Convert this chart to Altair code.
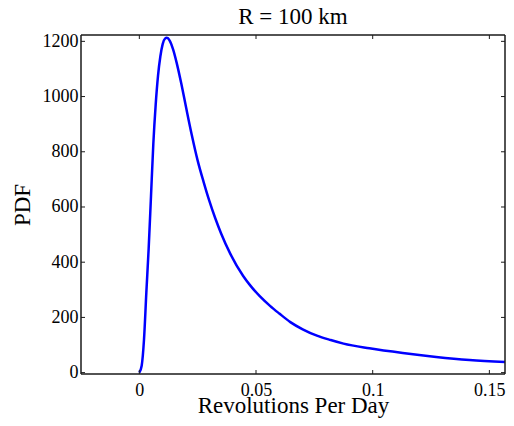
import altair as alt
import pandas as pd

# ---- data ----
rev_per_day = [0.0, 0.0010, 0.0020, 0.0030, 0.0040, 0.0050, 0.0060, 0.0070, 0.0080,
               0.0090, 0.0100, 0.0110, 0.0118, 0.0130, 0.0145, 0.0160, 0.0180, 0.0200,
               0.0225, 0.0250, 0.0275, 0.0300, 0.0325, 0.0350, 0.0390, 0.0445, 0.0475,
               0.0517, 0.0560, 0.0600, 0.0647, 0.0700, 0.0761, 0.0820, 0.0875, 0.0986,
               0.1129, 0.1272, 0.1415, 0.1580]
pdf_values = [0, 25, 120, 290, 450, 640, 830, 970, 1075,
              1145, 1190, 1210, 1213, 1203, 1170, 1122, 1046, 962,
              860, 768, 692, 622, 560, 505, 430, 350, 316,
              276, 242, 214, 183, 157, 134, 118, 105, 88,
              71, 57, 46, 38]
x_ticks = [0, 0.05, 0.1, 0.15]
y_ticks = [0, 200, 400, 600, 800, 1000, 1200]
chart_title = ["R = 100 km"]
x_title = "Revolutions Per Day"
y_title = "PDF"

W, H = 424, 339
FONT = "Liberation Serif"
TICK = 4
INK = "#1a1a1a"

curve = pd.DataFrame({"x": rev_per_day, "y": pdf_values})
xt = pd.DataFrame({"x": x_ticks})
yt = pd.DataFrame({"y": y_ticks})
tt = pd.DataFrame({"t": chart_title})
one = pd.DataFrame({"k": [0]})

xscale = alt.Scale(domain=[-0.025, 0.1567], nice=False, zero=False)
yscale = alt.Scale(domain=[-5, 1223], nice=False, zero=False)

xaxis = alt.Axis(values=x_ticks, format="~g", title=x_title, grid=False, ticks=False,
                 tickSize=0, domain=False, labelPadding=7, labelFont=FONT,
                 labelFontSize=18, labelColor="black", labelFlush=False,
                 labelOverlap=False, titleFont=FONT, titleFontSize=23,
                 titleFontWeight="normal", titleColor="black", titleY=38.5,
                 titleBaseline="alphabetic")
yaxis = alt.Axis(values=y_ticks, format="d", title=y_title, grid=False, ticks=False,
                 tickSize=0, domain=False, labelPadding=3, labelFont=FONT,
                 labelFontSize=18, labelColor="black", labelFlush=False,
                 labelOverlap=False, titleFont=FONT, titleFontSize=23,
                 titleFontWeight="normal", titleColor="black", titleX=-59,
                 titleY=H / 2, titleAngle=-90, titleAlign="center",
                 titleBaseline="middle")

line = alt.Chart(curve).mark_line(color="#0000FF", strokeWidth=2.5,
                                  interpolate="monotone", clip=True).encode(
    x=alt.X("x:Q", scale=xscale, axis=xaxis),
    y=alt.Y("y:Q", scale=yscale, axis=yaxis),
)

xb = alt.Chart(xt).mark_rule(color=INK, strokeWidth=1).encode(
    x=alt.X("x:Q", scale=xscale, axis=xaxis), y=alt.value(H), y2=alt.value(H - TICK))
xtop = alt.Chart(xt).mark_rule(color=INK, strokeWidth=1).encode(
    x=alt.X("x:Q", scale=xscale, axis=xaxis), y=alt.value(0), y2=alt.value(TICK))
yl = alt.Chart(yt).mark_rule(color=INK, strokeWidth=1).encode(
    y=alt.Y("y:Q", scale=yscale, axis=yaxis), x=alt.value(0), x2=alt.value(TICK))
yr = alt.Chart(yt).mark_rule(color=INK, strokeWidth=1).encode(
    y=alt.Y("y:Q", scale=yscale, axis=yaxis), x=alt.value(W), x2=alt.value(W - TICK))

# plot box
box = [
    alt.Chart(one).mark_rule(color=INK, strokeWidth=1.5).encode(
        x=alt.value(0), x2=alt.value(W), y=alt.value(0)),
    alt.Chart(one).mark_rule(color=INK, strokeWidth=1.5).encode(
        x=alt.value(0), x2=alt.value(W), y=alt.value(H)),
    alt.Chart(one).mark_rule(color=INK, strokeWidth=1.5).encode(
        x=alt.value(0), y=alt.value(0), y2=alt.value(H)),
    alt.Chart(one).mark_rule(color=INK, strokeWidth=1.5).encode(
        x=alt.value(W), y=alt.value(0), y2=alt.value(H)),
]

title_mark = alt.Chart(tt).mark_text(font=FONT, fontSize=23, color="black",
                                     align="center", baseline="alphabetic").encode(
    text="t:N", x=alt.value(W / 2), y=alt.value(-11))

chart = alt.layer(line, xb, xtop, yl, yr, *box, title_mark).properties(
    width=W, height=H,
    autosize=alt.AutoSizeParams(type="none"),
    padding={"left": 73, "top": 27, "right": 1, "bottom": 44},
).configure(background="white", view=alt.ViewConfig(strokeWidth=0))

chart.save("out.html", embed_options={"renderer": "svg", "actions": False})
